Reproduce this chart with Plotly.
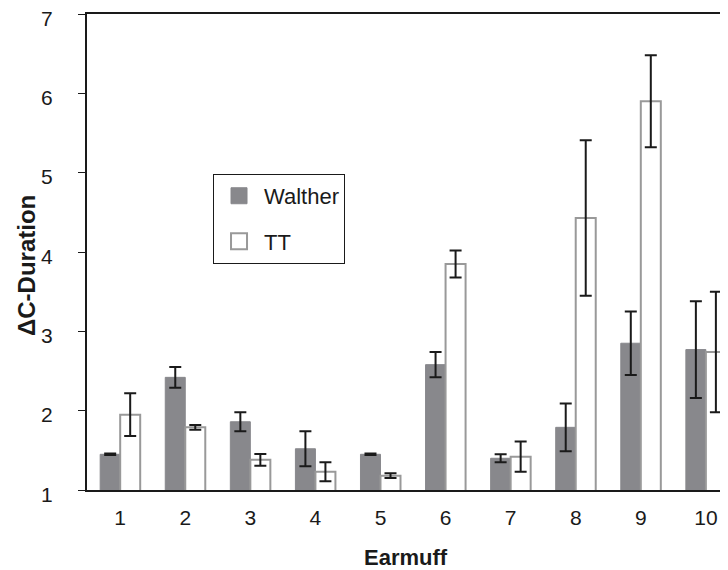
import plotly.graph_objects as go

categories = [1, 2, 3, 4, 5, 6, 7, 8, 9, 10]
walther = [1.45, 2.42, 1.86, 1.52, 1.45, 2.58, 1.40, 1.79, 2.85, 2.77]
walther_err = [0.01, 0.13, 0.12, 0.22, 0.01, 0.16, 0.05, 0.30, 0.40, 0.61]
tt = [1.95, 1.79, 1.38, 1.23, 1.18, 3.85, 1.42, 4.43, 5.90, 2.74]
tt_err = [0.27, 0.03, 0.075, 0.12, 0.03, 0.17, 0.19, 0.98, 0.58, 0.76]
y_ticks = [1, 2, 3, 4, 5, 6, 7]

WALTHER_COLOR = "#88888c"
TT_LINE = "#999999"
INK = "#1a1a1a"

fig = go.Figure()
fig.add_trace(go.Bar(
    x=categories, y=walther, name="Walther", showlegend=False,
    marker=dict(color=WALTHER_COLOR, line=dict(color=WALTHER_COLOR, width=1)),
    error_y=dict(type="data", array=walther_err, color=INK, thickness=2, width=6),
))
fig.add_trace(go.Bar(
    x=categories, y=tt, name="TT", showlegend=False,
    marker=dict(color="white", line=dict(color=TT_LINE, width=2)),
    error_y=dict(type="data", array=tt_err, color=INK, thickness=2, width=6),
))
# legend-only entries with larger square symbols
fig.add_trace(go.Scatter(
    x=[None], y=[None], mode="markers", name="Walther", legendgroup="w",
    marker=dict(symbol="square", size=16, color=WALTHER_COLOR,
                line=dict(color=WALTHER_COLOR, width=1)),
))
fig.add_trace(go.Scatter(
    x=[None], y=[None], mode="markers", name="TT", legendgroup="t",
    marker=dict(symbol="square", size=16, color="white",
                line=dict(color=TT_LINE, width=2)),
))

# y tick labels placed on the y data scale (slightly below each tick, as in the reference)
y_label_annotations = [
    dict(text=str(v), xref="paper", yref="y", x=-0.0499, y=v,
         xanchor="right", yanchor="middle", yshift=-4,
         showarrow=False, font=dict(size=21))
    for v in y_ticks
]

fig.update_layout(
    width=720, height=562,
    margin=dict(l=79, r=0, t=6, b=80, autoexpand=False),
    paper_bgcolor="white", plot_bgcolor="white",
    barmode="group", bargap=0.385, bargroupgap=0,
    font=dict(family="Liberation Sans, Arial, sans-serif", color=INK),
    showlegend=True,
    legend=dict(
        x=0.1966, y=0.664, xanchor="left", yanchor="top",
        bordercolor=INK, borderwidth=1, bgcolor="white",
        font=dict(size=22), itemsizing="trace", itemwidth=40,
        tracegroupgap=14,
    ),
    xaxis=dict(
        range=[0.49, 10.34], tickmode="array", tickvals=categories,
        ticktext=[str(c) for c in categories],
        showline=True, linecolor=INK, linewidth=1.5, mirror=True,
        ticks="", showgrid=False, zeroline=False,
        tickfont=dict(size=21), ticklabelstandoff=8,
        ticklabeloverflow="allow", automargin=False,
    ),
    yaxis=dict(
        range=[1, 7], tickmode="array", tickvals=y_ticks,
        showline=True, linecolor=INK, linewidth=1.5,
        ticks="outside", ticklen=7, tickcolor=INK,
        showgrid=False, zeroline=False, showticklabels=False,
        automargin=False,
    ),
    annotations=y_label_annotations + [
        dict(text="<b>Earmuff</b>", xref="paper", yref="paper",
             x=0.4977, y=-0.1408, xanchor="center", yanchor="middle",
             showarrow=False, font=dict(size=22)),
        dict(text="<b>ΔC-Duration</b>", xref="paper", yref="paper",
             x=-0.0936, y=0.4706, xanchor="center", yanchor="middle",
             textangle=-90, showarrow=False, font=dict(size=24)),
    ],
)

fig.write_html("out.html")
